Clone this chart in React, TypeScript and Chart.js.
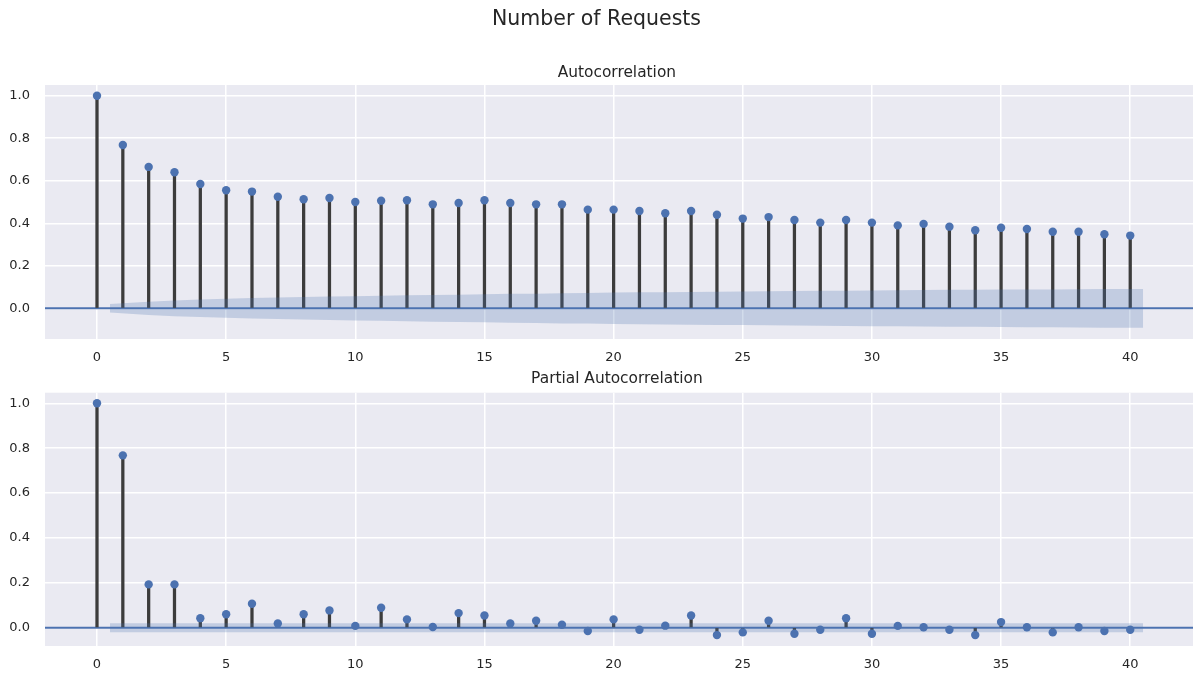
import React, { useEffect, useRef } from "react";
import { Chart, registerables } from "chart.js";

Chart.register(...registerables);

// ---- data ----
const lags = [
  0, 1, 2, 3, 4, 5, 6, 7, 8, 9, 10, 11, 12, 13, 14, 15, 16, 17, 18, 19, 20,
  21, 22, 23, 24, 25, 26, 27, 28, 29, 30, 31, 32, 33, 34, 35, 36, 37, 38, 39, 40,
];

const acfValues = [
  1.0, 0.768, 0.665, 0.64, 0.585, 0.555, 0.549, 0.525, 0.513, 0.519, 0.5,
  0.506, 0.508, 0.489, 0.495, 0.508, 0.495, 0.489, 0.489, 0.464, 0.464,
  0.458, 0.447, 0.458, 0.44, 0.422, 0.429, 0.415, 0.403, 0.415, 0.403,
  0.39, 0.397, 0.384, 0.367, 0.379, 0.373, 0.36, 0.36, 0.348, 0.342,
];

const pacfValues = [
  1.0, 0.768, 0.193, 0.193, 0.042, 0.06, 0.107, 0.019, 0.06, 0.077, 0.008,
  0.089, 0.037, 0.003, 0.065, 0.054, 0.019, 0.031, 0.013, -0.015, 0.037,
  -0.009, 0.009, 0.054, -0.033, -0.021, 0.031, -0.027, -0.009, 0.042, -0.027,
  0.008, 0.002, -0.009, -0.033, 0.025, 0.002, -0.021, 0.002, -0.015, -0.009,
];

// confidence band half-widths for lags 1..40
const acfBand = [
  0.02, 0.031, 0.037, 0.041, 0.045, 0.048, 0.0505, 0.053, 0.055, 0.057,
  0.059, 0.061, 0.063, 0.064, 0.066, 0.068, 0.069, 0.071, 0.072, 0.074,
  0.075, 0.076, 0.077, 0.078, 0.079, 0.08, 0.081, 0.082, 0.083, 0.084,
  0.085, 0.086, 0.087, 0.087, 0.088, 0.089, 0.089, 0.09, 0.091, 0.091,
];

const pacfBand = [
  0.02, 0.02, 0.02, 0.02, 0.02, 0.02, 0.02, 0.02, 0.02, 0.02,
  0.02, 0.02, 0.02, 0.02, 0.02, 0.02, 0.02, 0.02, 0.02, 0.02,
  0.02, 0.02, 0.02, 0.02, 0.02, 0.02, 0.02, 0.02, 0.02, 0.02,
  0.02, 0.02, 0.02, 0.02, 0.02, 0.02, 0.02, 0.02, 0.02, 0.02,
];

const xTicks = [0, 5, 10, 15, 20, 25, 30, 35, 40];
const yTicks = [0.0, 0.2, 0.4, 0.6, 0.8, 1.0];

const suptitle = "Number of Requests";
const acfTitle = "Autocorrelation";
const pacfTitle = "Partial Autocorrelation";

// ---- style ----
const BLUE = "#4C72B0";
const BAND = "rgba(76,114,176,0.25)";
const STEM = "#3c3c3c";
const TEXT = "#262626";
const FACE = "#EAEAF2";
const FONT = "DejaVu Sans";

const X_MIN = -2.013;
const X_MAX = 42.43;

const W = 1193;
const H1 = 366;
const H2 = 307;

const bgPlugin = {
  id: "axesFace",
  beforeDraw(chart: any) {
    const { ctx, chartArea } = chart;
    ctx.save();
    ctx.fillStyle = "#ffffff";
    ctx.fillRect(0, 0, chart.width, chart.height);
    ctx.fillStyle = FACE;
    ctx.fillRect(
      chartArea.left,
      chartArea.top,
      chartArea.right - chartArea.left,
      chartArea.bottom - chartArea.top
    );
    ctx.restore();
  },
};

// let the plotting area reach the right edge of the canvas, like the cropped figure
const stretchRight = {
  id: "stretchRight",
  afterLayout(chart: any) {
    const ca = chart.chartArea;
    const right = chart.width;
    if (ca.right !== right) {
      ca.right = right;
      ca.width = right - ca.left;
      const x = chart.scales.x;
      x.right = right;
      x.width = right - x.left;
      x.configure();
    }
  },
};

function bandX(): number[] {
  const xs = lags.slice(1).map((v) => v);
  xs[0] -= 0.5;
  xs[xs.length - 1] += 0.5;
  return xs;
}

function makeConfig(
  values: number[],
  band: number[],
  yMin: number,
  yMax: number,
  plugins: any
): any {
  const bx = bandX();
  return {
    type: "scatter",
    data: {
      datasets: [
        {
          type: "line",
          data: [
            { x: X_MIN, y: 0 },
            { x: X_MAX, y: 0 },
          ],
          borderColor: BLUE,
          borderWidth: 2,
          pointRadius: 0,
          fill: false,
          order: 5,
        },
        {
          type: "bar",
          data: lags.map((l, i) => ({ x: l, y: values[i] })),
          backgroundColor: STEM,
          borderWidth: 0,
          barThickness: 2.6,
          grouped: false,
          order: 4,
        },
        {
          type: "scatter",
          data: lags.map((l, i) => ({ x: l, y: values[i] })),
          backgroundColor: BLUE,
          borderColor: BLUE,
          borderWidth: 0,
          pointRadius: 4.2,
          order: 3,
        },
        {
          type: "line",
          data: bx.map((x, i) => ({ x, y: band[i] })),
          borderColor: "rgba(0,0,0,0)",
          borderWidth: 0,
          pointRadius: 0,
          backgroundColor: BAND,
          fill: "+1",
          tension: 0,
          order: 1,
        },
        {
          type: "line",
          data: bx.map((x, i) => ({ x, y: -band[i] })),
          borderColor: "rgba(0,0,0,0)",
          borderWidth: 0,
          pointRadius: 0,
          fill: false,
          tension: 0,
          order: 2,
        },
      ],
    },
    options: {
      animation: false,
      responsive: false,
      devicePixelRatio: 1,
      layout: { padding: 0 },
      events: [],
      plugins: {
        legend: { display: false },
        tooltip: { enabled: false },
        ...plugins,
      },
      scales: {
        x: {
          type: "linear",
          min: X_MIN,
          max: X_MAX,
          offset: false,
          afterBuildTicks: (s: any) => {
            s.ticks = xTicks.map((v) => ({ value: v }));
          },
          afterFit: (s: any) => {
            s.height = 27;
          },
          ticks: {
            autoSkip: false,
            maxRotation: 0,
            padding: 10.8,
            color: TEXT,
            font: { family: FONT, size: 13 },
            callback: (v: any) => String(v),
          },
          grid: {
            color: "#ffffff",
            lineWidth: 1.5,
            drawTicks: false,
            offset: false,
          },
          border: { display: false },
        },
        y: {
          type: "linear",
          min: yMin,
          max: yMax,
          afterBuildTicks: (s: any) => {
            s.ticks = yTicks.map((v) => ({ value: v }));
          },
          afterFit: (s: any) => {
            s.width = 45;
          },
          ticks: {
            padding: 15,
            color: TEXT,
            font: { family: FONT, size: 13 },
            callback: (v: any) => Number(v).toFixed(1),
          },
          grid: { color: "#ffffff", lineWidth: 1.5, drawTicks: false },
          border: { display: false },
        },
      },
    },
    plugins: [bgPlugin, stretchRight],
  };
}

export default function App() {
  const ref1 = useRef<HTMLCanvasElement>(null);
  const ref2 = useRef<HTMLCanvasElement>(null);

  useEffect(() => {
    const c1 = new Chart(
      ref1.current as HTMLCanvasElement,
      makeConfig(acfValues, acfBand, -0.1444, 1.0503, {
        title: {
          display: true,
          text: suptitle,
          color: TEXT,
          font: { family: FONT, size: 20.5, weight: "normal" },
          padding: { top: 7.7, bottom: 31.46 },
        },
        subtitle: {
          display: true,
          text: acfTitle,
          color: TEXT,
          fullSize: false,
          font: { family: FONT, size: 15.4, weight: "normal" },
          padding: { top: 0, bottom: 2.76 },
        },
      })
    );
    const c2 = new Chart(
      ref2.current as HTMLCanvasElement,
      makeConfig(pacfValues, pacfBand, -0.0816, 1.0472, {
        title: {
          display: true,
          text: pacfTitle,
          color: TEXT,
          fullSize: false,
          font: { family: FONT, size: 15.4, weight: "normal" },
          padding: { top: 4.06, bottom: 4.16 },
        },
      })
    );
    return () => {
      c1.destroy();
      c2.destroy();
    };
  }, []);

  return (
    <div
      style={{
        position: "absolute",
        left: 0,
        top: 0,
        width: W,
        height: H1 + H2,
        background: "#ffffff",
      }}
    >
      <canvas
        ref={ref1}
        width={W}
        height={H1}
        style={{ position: "absolute", left: 0, top: 0, display: "block" }}
      />
      <canvas
        ref={ref2}
        width={W}
        height={H2}
        style={{ position: "absolute", left: 0, top: H1, display: "block" }}
      />
    </div>
  );
}
